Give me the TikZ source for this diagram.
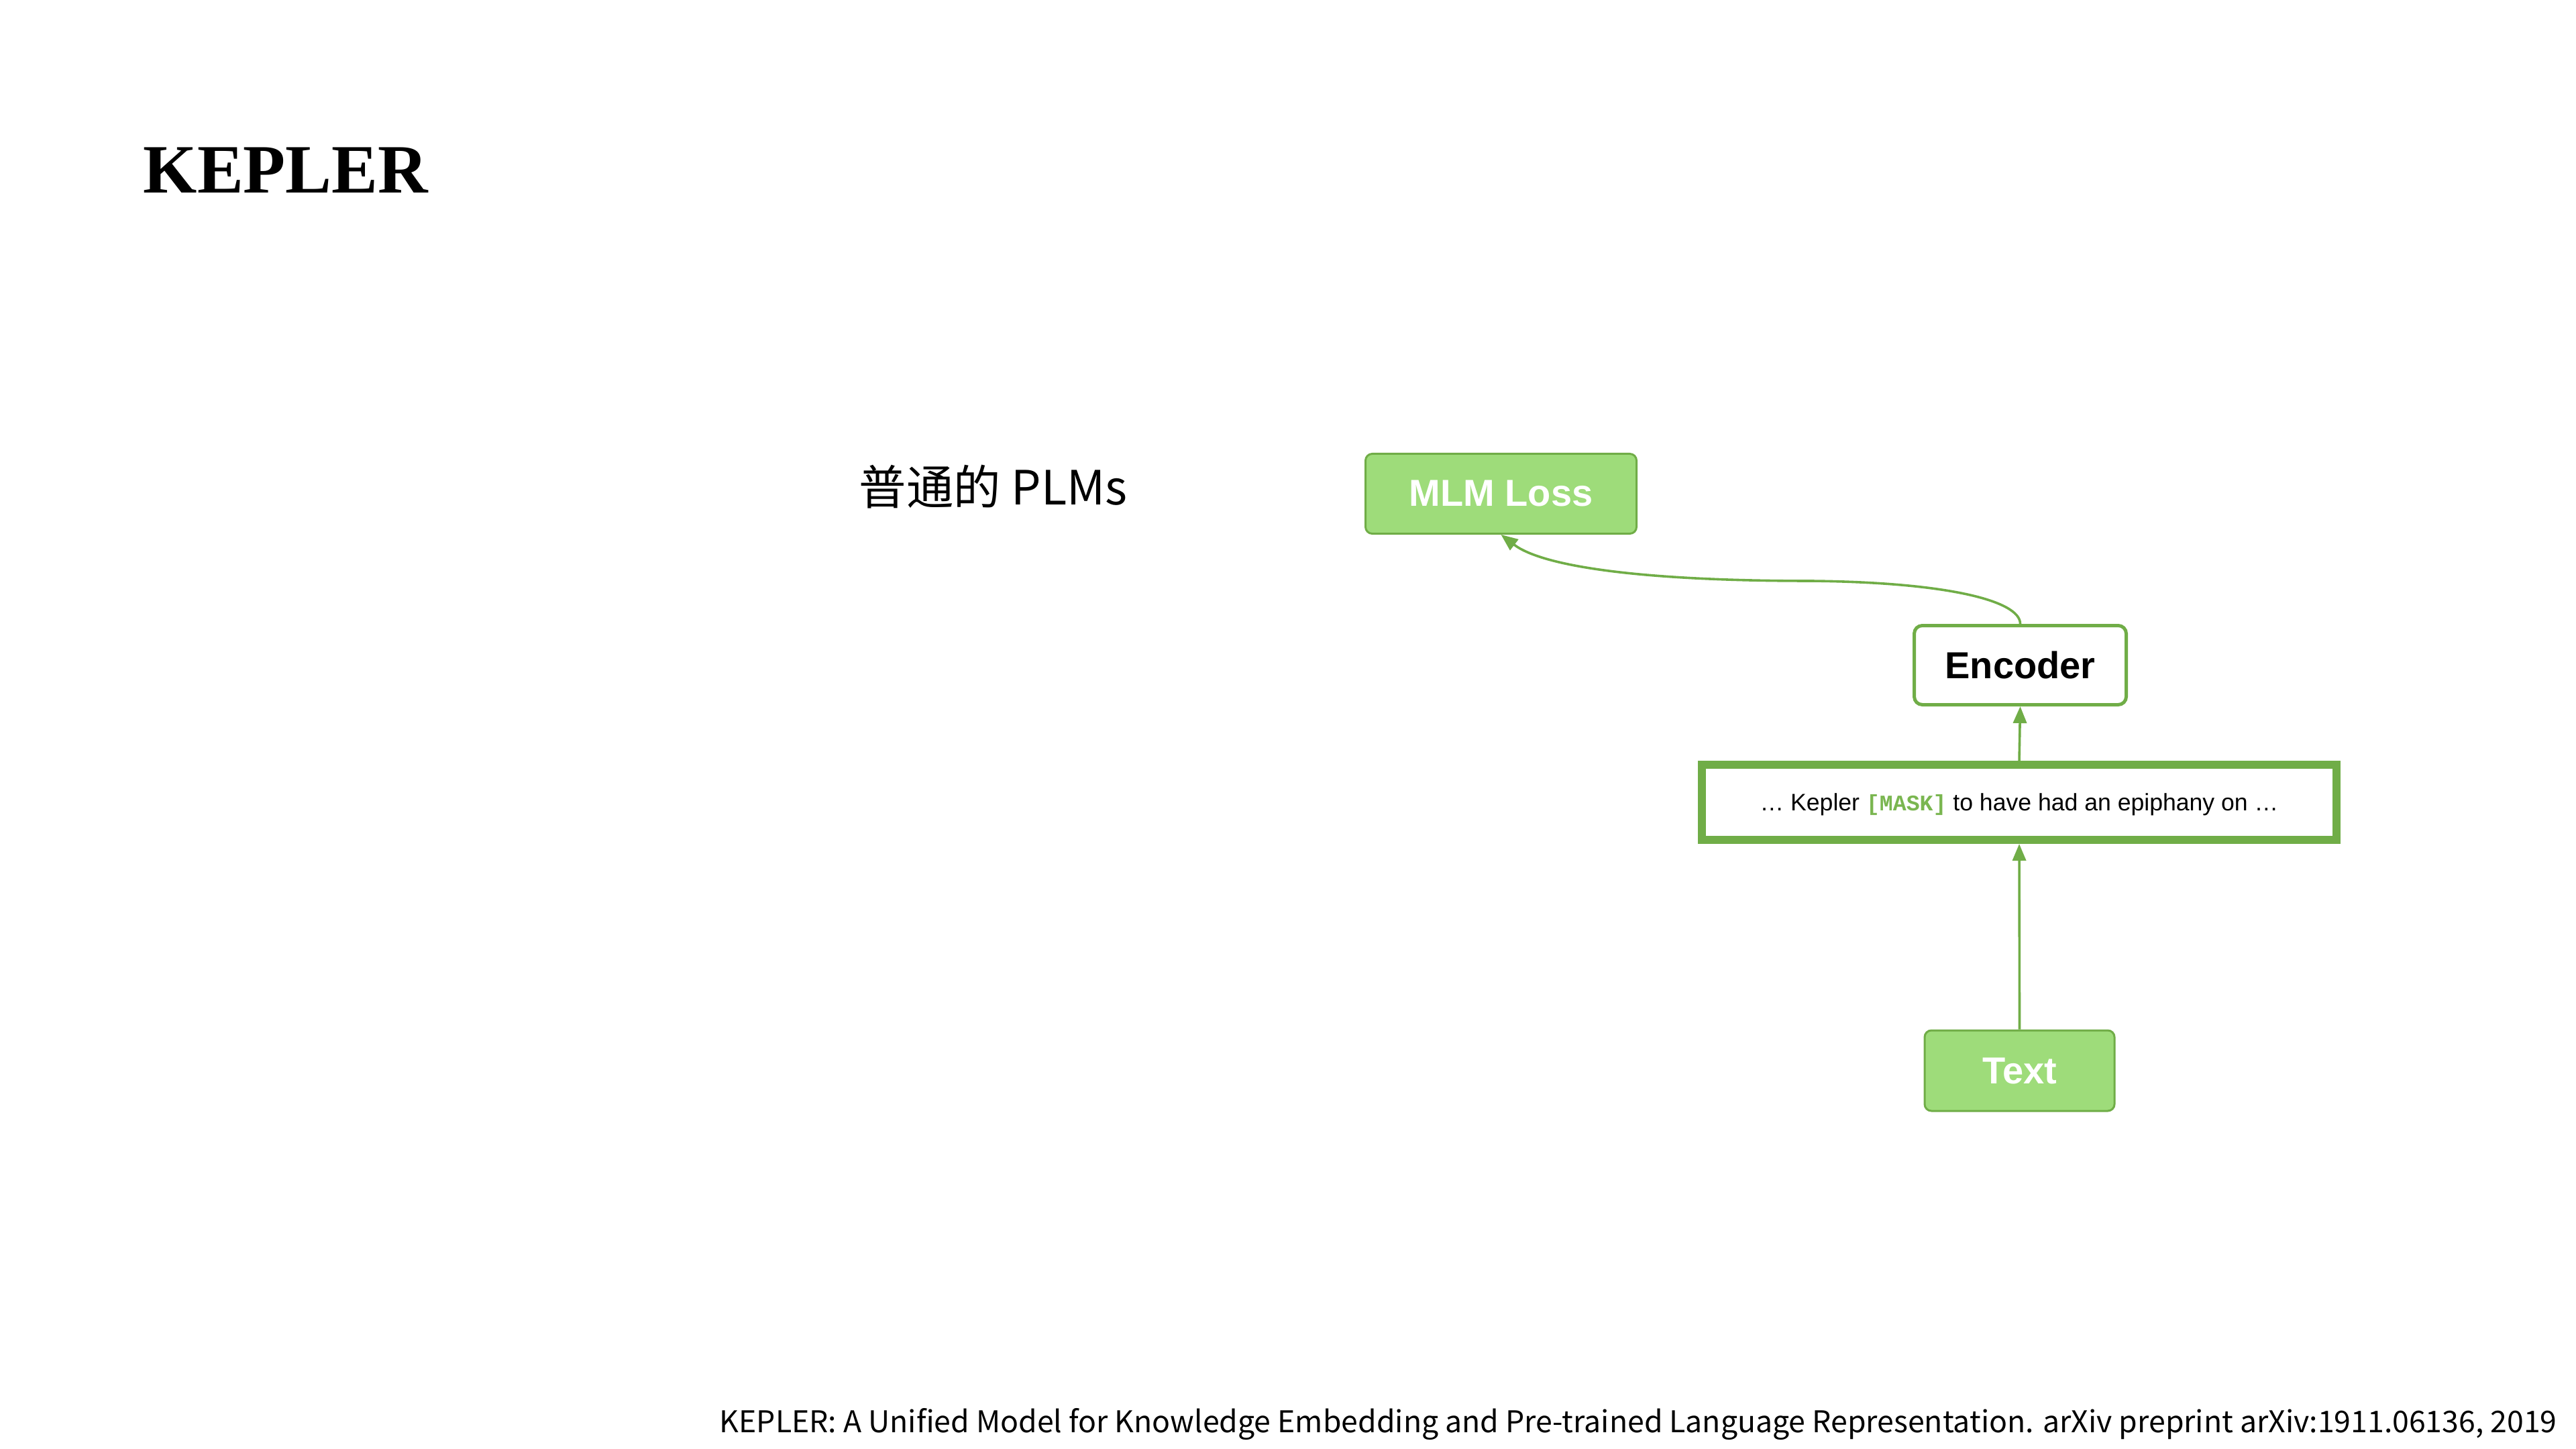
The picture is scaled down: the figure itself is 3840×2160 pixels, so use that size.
\documentclass[tikz,border=0pt]{standalone}
\usepackage{fontspec}
\setmainfont{Liberation Serif}
\setsansfont{Liberation Sans}
\setmonofont{Liberation Mono}
\newfontfamily\cjkfont{Noto Sans CJK SC}
\usetikzlibrary{arrows.meta}
\definecolor{kgreen}{RGB}{112,173,71}
\definecolor{klight}{RGB}{158,220,122}
\definecolor{kmask}{RGB}{122,182,80}
\begin{document}
\begin{tikzpicture}[x=0.25pt,y=-0.25pt,
  greenbox/.style={draw=kgreen, fill=klight, line width=0.75pt, rounded corners=2.5pt, inner sep=0pt, text=white, font=\sffamily\bfseries\fontsize{14}{16}\selectfont},
  whitebox/.style={draw=kgreen, fill=white, line width=1.25pt, rounded corners=3pt, inner sep=0pt, text=black, font=\sffamily\bfseries\fontsize{14}{16}\selectfont},
  seqbox/.style={draw=kgreen, fill=white, line width=3pt, inner sep=0pt},
  conn/.style={draw=kgreen, line width=0.9pt, -{Triangle[length=6.25pt,width=5pt]}},
]
\useasboundingbox[fill=white] (0,0) rectangle (3840,2160);
\node[anchor=base west, inner sep=0pt, font=\bfseries\fontsize{25.8}{30}\selectfont] (title) at (213,288) {KEPLER};
\node[anchor=base west, inner sep=0pt, font=\cjkfont\fontsize{17.6}{20}\selectfont] (plm) at (1280,752) {普通的 PLMs};
\node[greenbox, minimum width=101pt, minimum height=29.75pt] (mlm) at (2237.5,736) {MLM Loss};
\node[whitebox, minimum width=79pt, minimum height=29.5pt] (enc) at (3011.5,991.5) {Encoder};
\node[seqbox, minimum width=236.5pt, minimum height=28pt] (seq) at (3010,1196) {};
\node[anchor=base, inner sep=0pt, font=\sffamily\fontsize{8.9}{10}\selectfont] (seqtext) at (3010,1208) {… Kepler {\ttfamily\bfseries\color{kmask}\fontsize{8.3}{10}\selectfont [MASK]} to have had an epiphany on …};
\node[greenbox, minimum width=70.75pt, minimum height=30pt] (txt) at (3010.5,1596) {Text};
\draw[conn] (txt.north) -- (seq.south);
\draw[conn] (seq.north) -- (enc.south);
\draw[conn] (enc.north) .. controls (3011.5,895) and (2900,868) .. (2700,866) .. controls (2450,866) and (2300,845) .. (mlm.south);
\node[anchor=base west, inner sep=0pt, font=\cjkfont\fontsize{11.15}{14}\selectfont] (foot) at (1072,2135) {KEPLER: A Unified Model for Knowledge Embedding and Pre-trained Language Representation. arXiv preprint arXiv:1911.06136, 2019};
\end{tikzpicture}
\end{document}
